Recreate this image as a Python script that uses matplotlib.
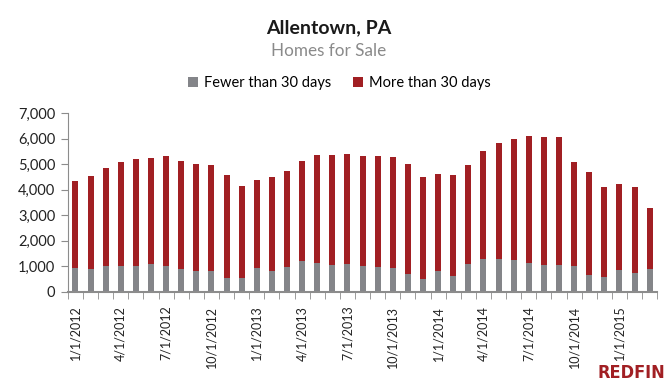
import numpy as np
import matplotlib.pyplot as plt

# Monthly data, Jan 2012 - Mar 2015
months = ["1/1/2012", "2/1/2012", "3/1/2012", "4/1/2012", "5/1/2012", "6/1/2012",
          "7/1/2012", "8/1/2012", "9/1/2012", "10/1/2012", "11/1/2012", "12/1/2012",
          "1/1/2013", "2/1/2013", "3/1/2013", "4/1/2013", "5/1/2013", "6/1/2013",
          "7/1/2013", "8/1/2013", "9/1/2013", "10/1/2013", "11/1/2013", "12/1/2013",
          "1/1/2014", "2/1/2014", "3/1/2014", "4/1/2014", "5/1/2014", "6/1/2014",
          "7/1/2014", "8/1/2014", "9/1/2014", "10/1/2014", "11/1/2014", "12/1/2014",
          "1/1/2015", "2/1/2015", "3/1/2015"]

total = [4340, 4540, 4860, 5090, 5210, 5250, 5330, 5130, 5010, 4970, 4580, 4140,
         4380, 4500, 4740, 5130, 5370, 5370, 5410, 5330, 5330, 5290, 5010, 4500,
         4620, 4580, 4970, 5520, 5840, 6000, 6120, 6080, 6080, 5090, 4700, 4110,
         4230, 4110, 3290]

fewer = [940, 890, 1020, 1020, 1020, 1100, 1020, 890, 810, 810, 540, 540,
         930, 810, 970, 1210, 1130, 1050, 1090, 1010, 970, 930, 690, 500,
         810, 610, 1090, 1290, 1290, 1250, 1130, 1050, 1050, 1010, 650, 570,
         850, 730, 890]

more = [t - f for t, f in zip(total, fewer)]

gray = "#848589"
red = "#A11F23"
axis_col = "#8C8C8C"

plt.rcParams["font.family"] = ["Lato", "DejaVu Sans"]

fig = plt.figure(figsize=(6.72, 3.84), dpi=100)
ax = fig.add_axes([0.101, 0.240, 0.877, 0.465])

x = np.arange(len(months))
ax.bar(x, fewer, width=0.4, color=gray, label="Fewer than 30 days")
ax.bar(x, more, width=0.4, bottom=fewer, color=red, label="More than 30 days")

ax.set_xlim(-0.5, len(months) - 0.5)
ax.set_ylim(0, 7000)
ax.set_yticks(range(0, 7001, 1000))
ax.set_yticklabels([f"{v:,}" for v in range(0, 7001, 1000)], fontsize=10.5, color="#222222")

ax.set_xticks(x[::3])
ax.set_xticklabels(months[::3], rotation=90, fontsize=9, color="#222222")
ax.set_xticks(np.arange(-0.5, len(months), 1), minor=True)
ax.tick_params(axis="x", which="major", length=0, pad=10)
ax.tick_params(axis="x", which="minor", length=5, color=axis_col, direction="out")
ax.tick_params(axis="y", length=5, color=axis_col, direction="out", pad=4)

for side in ["top", "right"]:
    ax.spines[side].set_visible(False)
ax.spines["left"].set_color(axis_col)
ax.spines["bottom"].set_color(axis_col)
ax.spines["bottom"].set_linewidth(1.5)

fig.text(0.489, 0.927, "Allentown, PA", ha="center", va="center",
         fontsize=14, fontweight="bold", color="#1a1a1a")
fig.text(0.489, 0.866, "Homes for Sale", ha="center", va="center",
         fontsize=12.3, color="#8a8a8a")

fig.legend(loc="center", bbox_to_anchor=(0.505, 0.784), ncol=2, frameon=False,
           fontsize=10.5, handlelength=0.7, handleheight=0.7, handletextpad=0.4,
           columnspacing=1.5)

# logo-like text, bottom right
fig.text(0.990, 0.006, "REDFIN", ha="right", va="bottom", fontsize=13,
         fontweight="bold", color=red, family=["DejaVu Sans"],
         fontstretch="condensed")

fig.savefig("out.png", dpi=100)
